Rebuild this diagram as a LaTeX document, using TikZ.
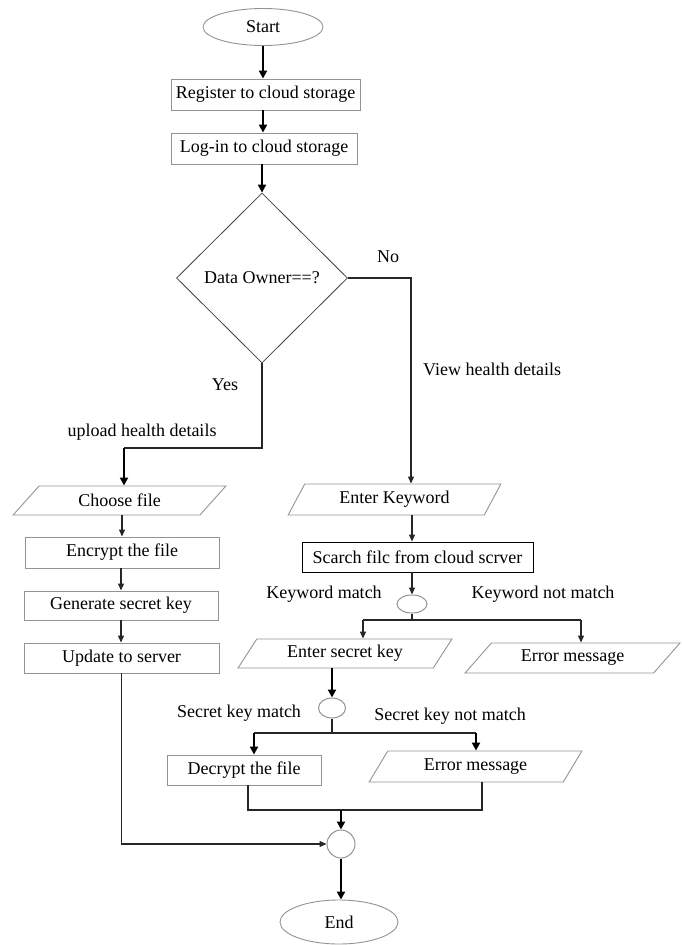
\documentclass[tikz,border=0pt]{standalone}
\usepackage{fontspec}
\setmainfont{Liberation Serif}
\usetikzlibrary{shapes.geometric,arrows.meta}

\begin{document}
\begin{tikzpicture}[x=1pt,y=-1pt,font=\fontsize{18}{21}\selectfont,
  procbox/.style={draw=gray!85,line width=0.9pt,rectangle,inner sep=0pt},
  iobox/.style={draw=gray!85,line width=0.9pt,trapezium,trapezium stretches=true,inner sep=0pt},
  termbox/.style={draw=gray!85,line width=0.9pt,ellipse,inner sep=0pt},
  joint/.style={draw=gray!85,line width=1pt,ellipse,inner sep=0pt},
  conn/.style={line width=1.1pt,black!85},
  arr/.style={conn,-{Triangle[length=7pt,width=6pt]}},
  bigarr/.style={line width=2pt,-{Triangle[length=8pt,width=8pt]}}]
\useasboundingbox (0,0) rectangle (682,945);

% Draw start, register, log-in and the decision.
\node[termbox,minimum width=120pt,minimum height=37pt] (start) at (263,27) {Start};
\node[procbox,minimum width=189pt,minimum height=31pt] (register) at (265.5,94.5) {Register to cloud storage};
\node[procbox,minimum width=186pt,minimum height=31pt] (login) at (264,148.5) {Log-in to cloud storage};
\node[diamond,draw=black!75,line width=0.8pt,inner sep=0pt,minimum width=171pt,minimum height=170pt] (owner) at (262,278) {Data Owner==?};

% Draw the data owner column.
\node[iobox,trapezium left angle=44,trapezium right angle=136,minimum width=213pt,minimum height=29pt] (choose) at (119.5,500.5) {Choose file};
\node[procbox,minimum width=194pt,minimum height=31pt] (encrypt) at (122,552.5) {Encrypt the file};
\node[procbox,minimum width=194pt,minimum height=29pt] (genkey) at (121,605.5) {Generate secret key};
\node[procbox,minimum width=195pt,minimum height=30pt] (update) at (121.5,658) {Update to server};

% Draw the user column.
\node[iobox,trapezium left angle=58,trapezium right angle=122,minimum width=213pt,minimum height=31pt] (keyword) at (394.5,499.5) {Enter Keyword};
\node[procbox,draw=black,minimum width=231pt,minimum height=30pt] (search) at (417.5,557) {Scarch filc from cloud scrver};
\node[joint,minimum width=30pt,minimum height=18pt] (kwjoint) at (412,604) {};
\node[iobox,trapezium left angle=53,trapezium right angle=127,minimum width=214pt,minimum height=29pt] (seckey) at (345,653.5) {Enter secret key};
\node[iobox,trapezium left angle=43,trapezium right angle=137,minimum width=215pt,minimum height=30pt] (err1) at (572.5,658) {Error message};
\node[joint,minimum width=27pt,minimum height=20pt] (skjoint) at (332,708) {};
\node[procbox,minimum width=154pt,minimum height=30pt] (decrypt) at (244,770) {Decrypt the file};
\node[iobox,trapezium left angle=55,trapezium right angle=125,minimum width=213pt,minimum height=31pt] (err2) at (475.5,766.5) {Error message};
\node[joint,minimum width=28pt,minimum height=28pt] (merge) at (341,844) {};
\node[termbox,minimum width=118pt,minimum height=44pt] (end) at (339,922) {End};

% Labels on the branches.
\node (no) at (388,257) {No};
\node (yes) at (225,385) {Yes};
\node (upload) at (142,432) {upload health details};
\node[anchor=west,inner sep=0pt] (view) at (423,369) {View health details};
\node (kwmatch) at (324,594) {Keyword match};
\node (kwnot) at (543,594) {Keyword not match};
\node (skmatch) at (239,713) {Secret key match};
\node (sknot) at (450,716) {Secret key not match};

% Corners of the connectors.
\coordinate (nocorner) at (411,278);
\coordinate (yescorner) at (124,448);
\coordinate (kwsplit) at (412,620);
\coordinate (kwleft) at (363,620);
\coordinate (kwright) at (581,620);
\coordinate (sksplit) at (332,733);
\coordinate (skleft) at (254,733);
\coordinate (skright) at (476,733);
\coordinate (mgleft) at (248,810);
\coordinate (mgright) at (482,810);

\draw[bigarr] (start.south) -- (start.south |- register.north);
\draw[bigarr] (start.south |- register.south) -- (start.south |- login.north);
\draw[bigarr] (owner.north |- login.south) -- (owner.north);

\draw[arr] (owner.east) -- (nocorner) -- (nocorner |- keyword.north);
\draw[conn] (owner.south) |- (yescorner);
\draw[bigarr] (yescorner) -- (yescorner |- choose.north);

\draw[arr] (encrypt.north |- choose.south) -- (encrypt.north);
\draw[arr] (genkey.north |- encrypt.south) -- (genkey.north);
\draw[arr] (genkey.south) -- (update.north -| genkey.south);
\draw[arr] (update.south) |- (merge.west);

\draw[arr] (kwjoint |- keyword.south) -- (kwjoint |- search.north);
\draw[arr] (kwjoint |- search.south) -- (kwjoint.north);
\draw[conn] (kwjoint.south) -- (kwsplit);
\draw[conn] (kwleft) -- (kwright);
\draw[arr,line width=1.5pt] (kwleft) -- (kwleft |- seckey.north);
\draw[arr] (kwright) -- (kwright |- err1.north);

\draw[bigarr] (skjoint |- seckey.south) -- (skjoint.north);
\draw[conn] (skjoint.south) -- (sksplit);
\draw[conn] (skleft) -- (skright);
\draw[bigarr] (skleft) -- (skleft |- decrypt.north);
\draw[bigarr] (skright) -- (skright |- err2.north);

\draw[conn] (mgleft |- decrypt.south) -- (mgleft) -- (mgright) -- (mgright |- err2.south);
\draw[bigarr] (merge.north |- mgleft) -- (merge.north);
\draw[bigarr] (merge.south) -- (merge.south |- end.north);
\end{tikzpicture}
\end{document}
